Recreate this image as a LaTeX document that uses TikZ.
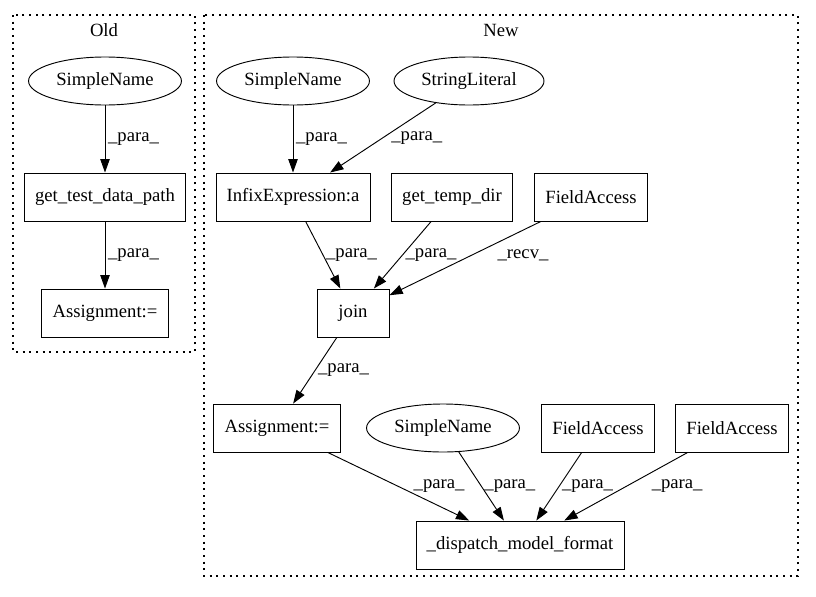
\documentclass[tikz,border=0pt]{standalone}
\usepackage{fontspec}
\setmainfont{Liberation Serif}
\usetikzlibrary{shapes.geometric,arrows.meta}

\begin{document}
\begin{tikzpicture}[x=0.75pt, y=-0.75pt,
    every node/.style={font=\fontsize{14pt}{16pt}\selectfont},
    box/.style={draw, line width=0.7pt, rectangle, minimum height=36pt, minimum width=54pt, inner xsep=8pt},
    oval/.style={draw, line width=0.7pt, ellipse, minimum height=36pt, inner xsep=4pt, inner ysep=0pt},
    edge/.style={line width=0.7pt, -{Triangle[length=10pt,width=7pt]}},
    lbl/.style={midway, right, inner sep=2pt},
    cluster/.style={line width=0.8pt, dash pattern=on 1.5pt off 3.5pt}]
      \useasboundingbox (0, 0) rectangle (816, 596);
      \draw[cluster] (13, 15) rectangle (195, 352);
      \node (oldlbl) at (104, 30) {Old};
      \draw[cluster] (204, 15) rectangle (798, 576);
      \node (newlbl) at (501, 30) {New};

      \node[oval] (oSN) at (105, 81) {SimpleName};
      \node[box] (oGet) at (105, 197) {get\_test\_data\_path};
      \node[box] (oAsg) at (105, 313) {Assignment:=};
      \draw[edge] (oSN) -- (oGet) node [lbl] {\_para\_};
      \draw[edge] (oGet) -- (oAsg) node [lbl] {\_para\_};

      \node[oval] (nSN) at (293, 81) {SimpleName};
      \node[oval] (nSL) at (469, 81) {StringLiteral};
      \node[box] (nInfix) at (293, 197) {InfixExpression:a};
      \node[box] (nTemp) at (452, 197) {get\_temp\_dir};
      \node[box] (nFA) at (591, 197) {FieldAccess};
      \node[box] (nJoin) at (353, 313) {join};
      \node[box] (nAsg) at (277, 428) {Assignment:=};
      \node[oval] (nSN2) at (443, 428) {SimpleName};
      \node[box] (nFA2) at (598, 428) {FieldAccess};
      \node[box] (nFA3) at (732, 428) {FieldAccess};
      \node[box] (nDisp) at (520, 545) {\_dispatch\_model\_format};

      \draw[edge] (nSN) -- (nInfix) node [lbl] {\_para\_};
      \draw[edge] (nSL) -- (nInfix) node [lbl, xshift=4pt] {\_para\_};
      \draw[edge] (nInfix) -- (nJoin) node [lbl] {\_para\_};
      \draw[edge] (nTemp) -- (nJoin) node [lbl] {\_para\_};
      \draw[edge] (nFA) -- (nJoin) node [lbl, xshift=22pt, yshift=2pt] {\_recv\_};
      \draw[edge] (nJoin) -- (nAsg) node [lbl] {\_para\_};
      \draw[edge] (nAsg) -- (nDisp) node [lbl, xshift=9pt] {\_para\_};
      \draw[edge] (nSN2) -- (nDisp) node [lbl] {\_para\_};
      \draw[edge] (nFA2) -- (nDisp) node [lbl] {\_para\_};
      \draw[edge] (nFA3) -- (nDisp) node [lbl, xshift=17pt] {\_para\_};
    \end{tikzpicture}
\end{document}
